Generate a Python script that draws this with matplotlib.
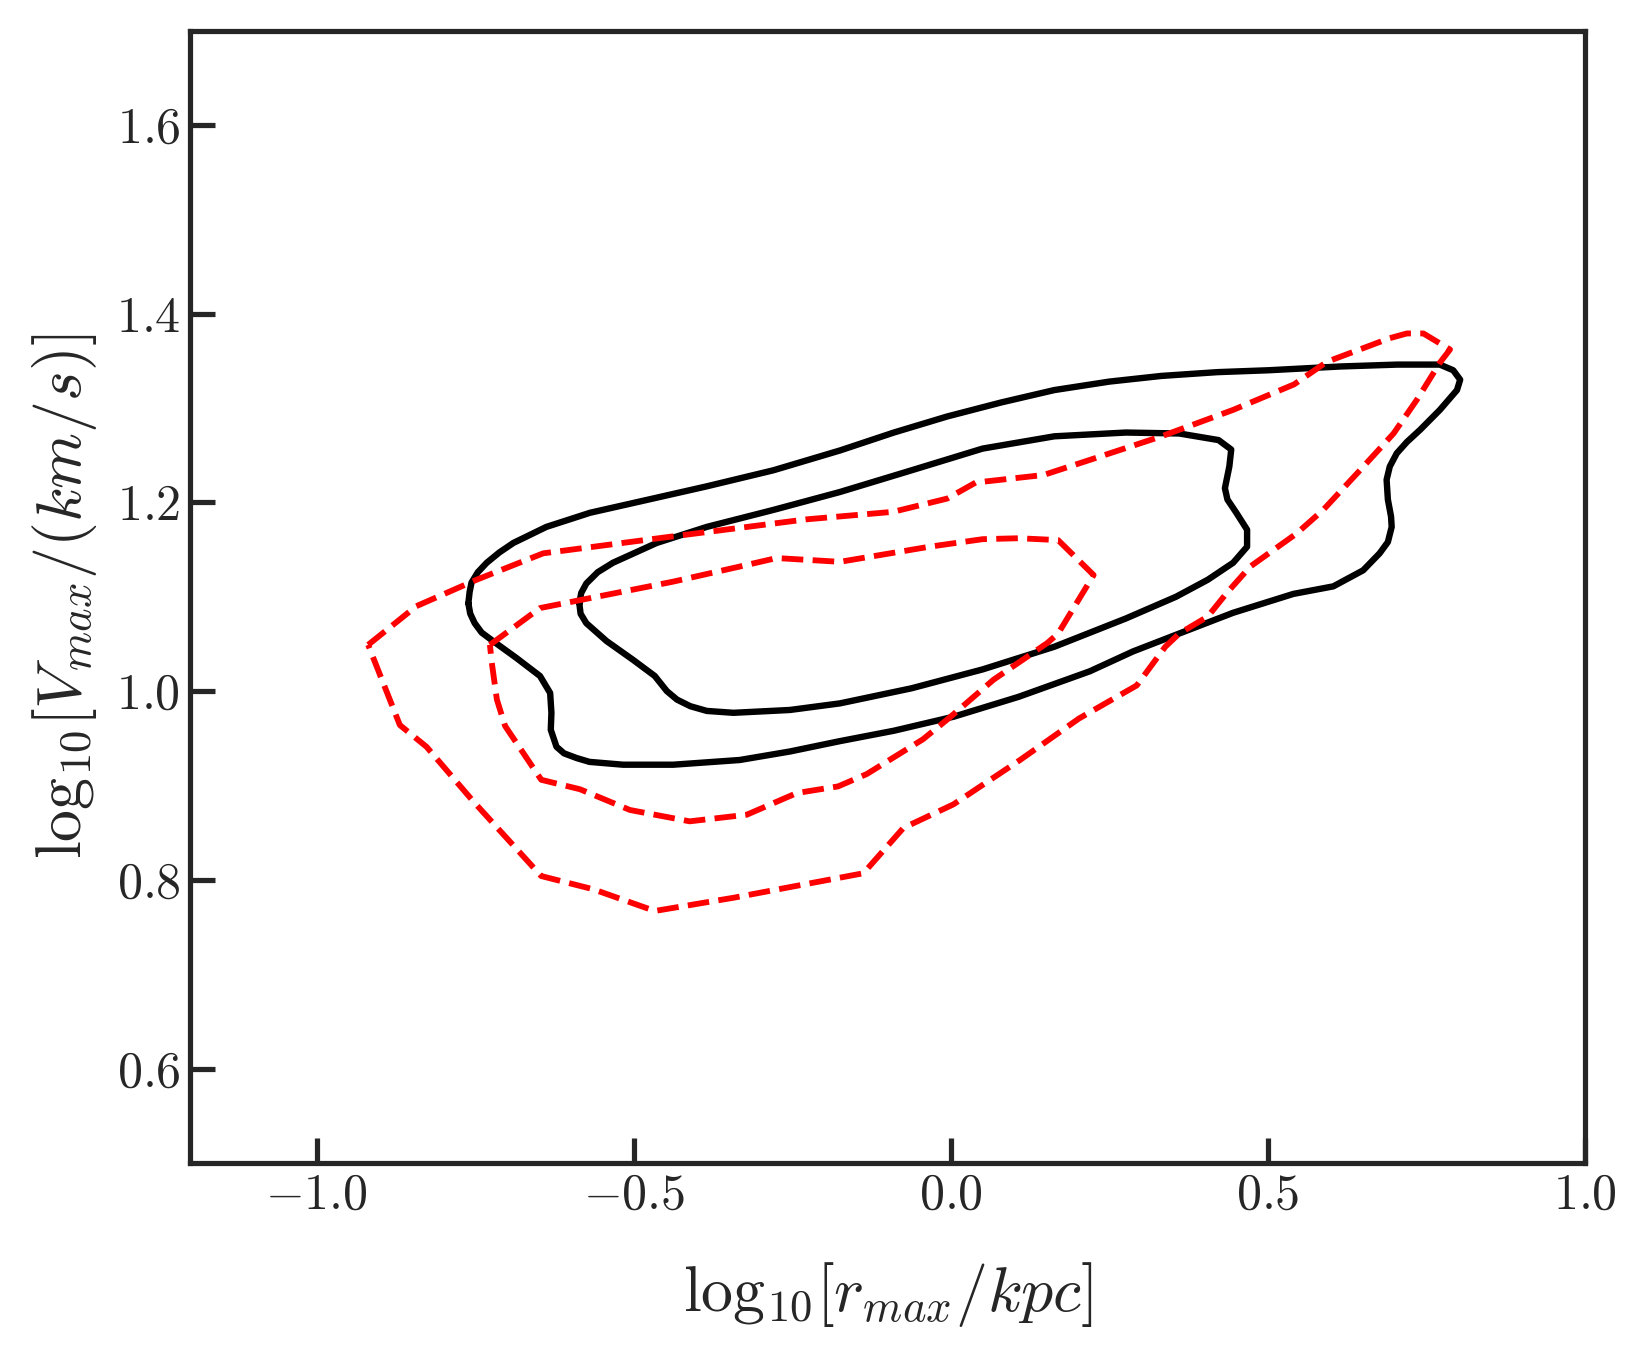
import matplotlib
matplotlib.use('Agg')
import matplotlib.pyplot as plt
import seaborn as sns
import numpy as np

# contour outlines (log10 rmax, log10 Vmax)
black_outer_x = [-0.761, -0.759, -0.756, -0.746, -0.732, -0.712, -0.690, -0.638, -0.569, -0.490,
                 -0.385, -0.280, -0.175, -0.090, -0.006, 0.080, 0.163, 0.250, 0.332, 0.420,
                 0.501, 0.614, 0.704, 0.771, 0.792, 0.803, 0.798, 0.771, 0.740, 0.719,
                 0.703, 0.692, 0.687, 0.689, 0.694, 0.695, 0.689, 0.676, 0.650, 0.603,
                 0.540, 0.445, 0.360, 0.287, 0.219, 0.107, 0.005, -0.090, -0.175, -0.254,
                 -0.333, -0.438, -0.517, -0.570, -0.590, -0.610, -0.622, -0.631, -0.630, -0.632,
                 -0.648, -0.685, -0.722, -0.740, -0.751, -0.758, -0.761]
black_outer_y = [1.093, 1.105, 1.115, 1.126, 1.136, 1.147, 1.157, 1.174, 1.189, 1.201,
                 1.217, 1.234, 1.255, 1.274, 1.291, 1.306, 1.319, 1.328, 1.334, 1.338,
                 1.340, 1.344, 1.346, 1.346, 1.340, 1.330, 1.319, 1.298, 1.277, 1.264,
                 1.252, 1.238, 1.224, 1.203, 1.185, 1.174, 1.158, 1.146, 1.128, 1.111,
                 1.103, 1.083, 1.061, 1.042, 1.021, 0.994, 0.973, 0.958, 0.947, 0.936,
                 0.927, 0.922, 0.922, 0.925, 0.929, 0.934, 0.941, 0.959, 0.977, 0.998,
                 1.016, 1.035, 1.053, 1.062, 1.072, 1.082, 1.093]

black_inner_x = [-0.586, -0.583, -0.575, -0.557, -0.533, -0.464, -0.385, -0.280, -0.175, -0.062,
                 0.050, 0.163, 0.276, 0.360, 0.422, 0.442, 0.439, 0.432, 0.436, 0.450,
                 0.467, 0.467, 0.445, 0.405, 0.355, 0.276, 0.163, 0.050, -0.062, -0.175,
                 -0.254, -0.343, -0.385, -0.411, -0.432, -0.448, -0.467, -0.501, -0.543, -0.575,
                 -0.584, -0.586]
black_inner_y = [1.093, 1.104, 1.114, 1.126, 1.136, 1.157, 1.174, 1.192, 1.211, 1.234,
                 1.257, 1.270, 1.274, 1.273, 1.266, 1.256, 1.238, 1.215, 1.203, 1.189,
                 1.171, 1.153, 1.136, 1.118, 1.100, 1.077, 1.047, 1.023, 1.003, 0.987,
                 0.980, 0.977, 0.979, 0.984, 0.991, 1.000, 1.016, 1.033, 1.053, 1.072,
                 1.082, 1.093]

red_outer_x = [-0.919, -0.843, -0.748, -0.643, -0.438, -0.228, -0.091, -0.006, 0.039, 0.146,
               0.219, 0.332, 0.445, 0.541, 0.593, 0.692, 0.719, 0.745, 0.787, 0.771,
               0.735, 0.698, 0.645, 0.587, 0.545, 0.472, 0.435, 0.405, 0.360, 0.338,
               0.293, 0.202, 0.109, 0.004, -0.075, -0.138, -0.343, -0.467, -0.564, -0.646,
               -0.753, -0.827, -0.869, -0.919]
red_outer_y = [1.049, 1.090, 1.118, 1.146, 1.164, 1.182, 1.190, 1.204, 1.221, 1.229,
               1.245, 1.270, 1.298, 1.325, 1.349, 1.374, 1.379, 1.379, 1.362, 1.348,
               1.309, 1.273, 1.234, 1.192, 1.167, 1.132, 1.104, 1.079, 1.061, 1.047,
               1.006, 0.971, 0.927, 0.880, 0.855, 0.807, 0.781, 0.767, 0.790, 0.804,
               0.883, 0.941, 0.964, 1.049]

red_inner_x = [-0.727, -0.648, -0.543, -0.438, -0.333, -0.275, -0.175, -0.034, 0.050, 0.107,
               0.169, 0.225, 0.169, 0.152, 0.067, -0.002, -0.044, -0.133, -0.178, -0.243,
               -0.322, -0.412, -0.506, -0.585, -0.646, -0.703, -0.716, -0.724, -0.727]
red_inner_y = [1.049, 1.088, 1.102, 1.116, 1.132, 1.141, 1.137, 1.153, 1.161, 1.162,
               1.160, 1.123, 1.061, 1.051, 1.012, 0.972, 0.949, 0.912, 0.899, 0.892,
               0.869, 0.862, 0.874, 0.896, 0.906, 0.963, 0.991, 1.030, 1.049]

xticks = [-1.0, -0.5, 0.0, 0.5, 1.0]
yticks = [0.6, 0.8, 1.0, 1.2, 1.4, 1.6]

sns.set_theme(style='ticks', context='talk')
plt.rcParams['font.family'] = 'serif'
plt.rcParams['font.serif'] = ['cmr10']
plt.rcParams['mathtext.fontset'] = 'cm'
plt.rcParams['axes.formatter.use_mathtext'] = True

fig = plt.figure(figsize=(8.23, 6.755), dpi=200)
ax = fig.add_axes([0.1154, 0.1392, 0.8476, 0.8382])

ax.plot(black_outer_x, black_outer_y, color='black', lw=2.3)
ax.plot(black_inner_x, black_inner_y, color='black', lw=2.3)
ax.plot(red_outer_x, red_outer_y, color='red', lw=2.1, ls='--')
ax.plot(red_inner_x, red_inner_y, color='red', lw=2.1, ls='--')

ax.set_xlim(-1.2, 1.0)
ax.set_ylim(0.5, 1.7)
ax.set_xticks(xticks)
ax.set_yticks(yticks)
ax.tick_params(direction='in', labelsize=18)

ax.set_xlabel(r'$\mathrm{log}_{10}[r_{max}/kpc]$', fontsize=23, labelpad=15)
ax.set_ylabel(r'$\mathrm{log}_{10}[V_{max}/(km/s)]$', fontsize=23, labelpad=6)

plt.savefig('out.png', dpi=200)
